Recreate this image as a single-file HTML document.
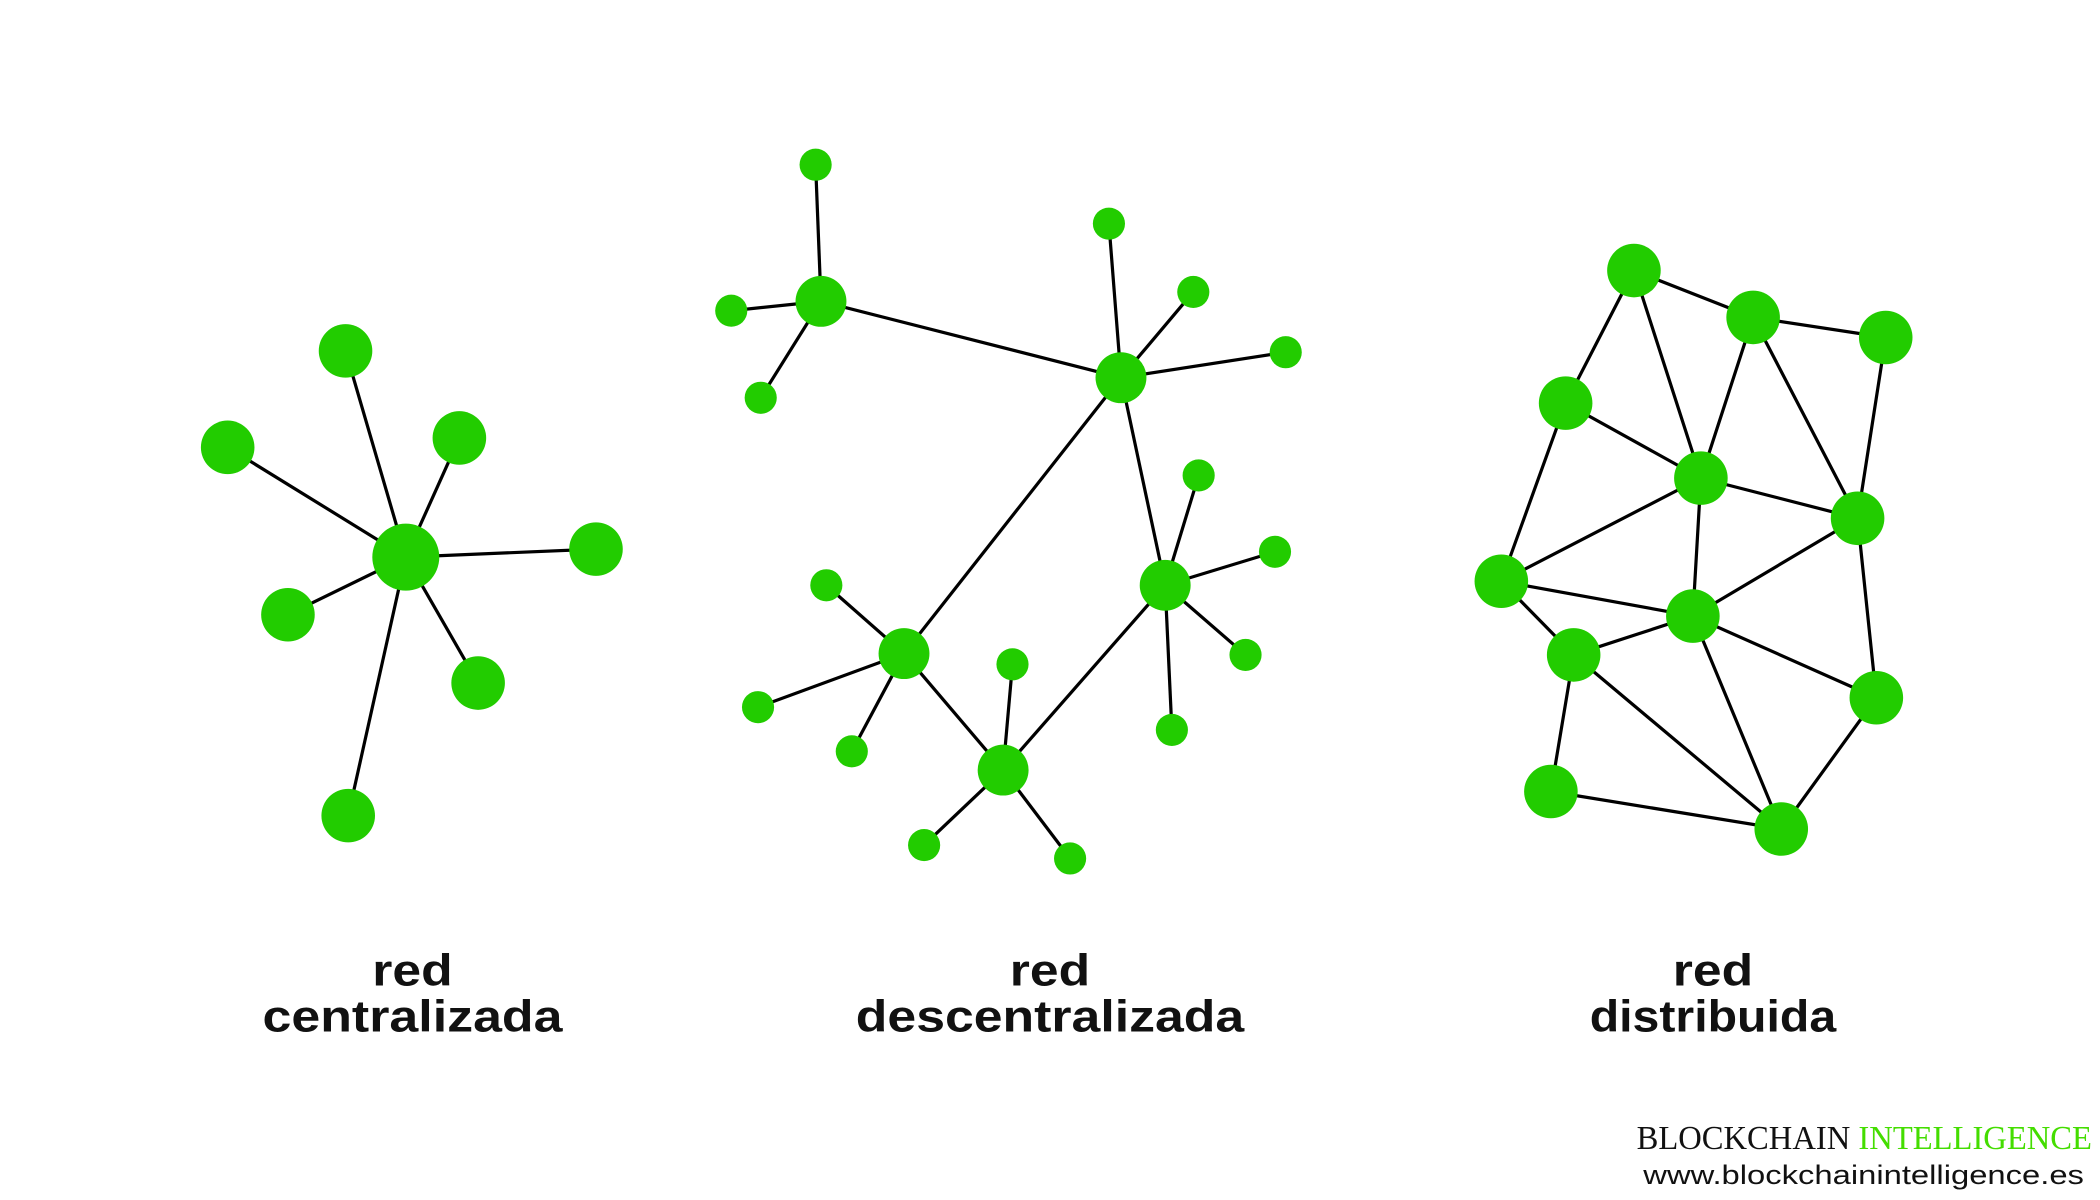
<!DOCTYPE html>
<html><head><meta charset="utf-8"><style>
html,body{margin:0;padding:0;background:#fff;width:2100px;height:1200px;overflow:hidden}
svg{display:block}
</style></head><body>
<svg width="2100" height="1200" viewBox="0 0 1568 896" preserveAspectRatio="none" xmlns="http://www.w3.org/2000/svg">
<g stroke="#000" stroke-width="2.4" fill="none">
<line x1="303" y1="416" x2="258" y2="262"/><line x1="303" y1="416" x2="170" y2="334"/>
<line x1="303" y1="416" x2="343" y2="327"/><line x1="303" y1="416" x2="445" y2="410"/>
<line x1="303" y1="416" x2="215" y2="459"/><line x1="303" y1="416" x2="357" y2="510"/>
<line x1="303" y1="416" x2="260" y2="609"/>
<line x1="613" y1="225" x2="837" y2="282"/><line x1="837" y1="282" x2="675" y2="488"/>
<line x1="837" y1="282" x2="870" y2="437"/><line x1="870" y1="437" x2="749" y2="575"/>
<line x1="675" y1="488" x2="749" y2="575"/>
<line x1="613" y1="225" x2="609" y2="123"/><line x1="613" y1="225" x2="546" y2="232"/><line x1="613" y1="225" x2="568" y2="297"/>
<line x1="837" y1="282" x2="828" y2="167"/><line x1="837" y1="282" x2="891" y2="218"/><line x1="837" y1="282" x2="960" y2="263"/>
<line x1="870" y1="437" x2="895" y2="355"/><line x1="870" y1="437" x2="952" y2="412"/><line x1="870" y1="437" x2="930" y2="489"/><line x1="870" y1="437" x2="875" y2="545"/>
<line x1="675" y1="488" x2="617" y2="437"/><line x1="675" y1="488" x2="566" y2="528"/><line x1="675" y1="488" x2="636" y2="561"/>
<line x1="749" y1="575" x2="756" y2="496"/><line x1="749" y1="575" x2="690" y2="631"/><line x1="749" y1="575" x2="799" y2="641"/>
<path d="M1220 202L1309 237M1309 237L1408 252M1220 202L1169 301M1220 202L1270 357M1309 237L1270 357M1309 237L1387 387M1408 252L1387 387M1169 301L1270 357M1169 301L1121 434M1270 357L1121 434M1270 357L1387 387M1270 357L1264 460M1387 387L1264 460M1387 387L1401 521M1121 434L1264 460M1121 434L1175 489M1175 489L1264 460M1264 460L1401 521M1264 460L1330 619M1175 489L1330 619M1175 489L1158 591M1158 591L1330 619M1401 521L1330 619"/>
</g>
<g fill="#22cc00">
<circle cx="303" cy="416" r="25"/>
<circle cx="258" cy="262" r="20"/><circle cx="170" cy="334" r="20"/><circle cx="343" cy="327" r="20"/><circle cx="445" cy="410" r="20"/><circle cx="215" cy="459" r="20"/><circle cx="357" cy="510" r="20"/><circle cx="260" cy="609" r="20"/>
<circle cx="613" cy="225" r="19"/><circle cx="837" cy="282" r="19"/><circle cx="870" cy="437" r="19"/><circle cx="675" cy="488" r="19"/><circle cx="749" cy="575" r="19"/>
<circle cx="609" cy="123" r="12"/><circle cx="546" cy="232" r="12"/><circle cx="568" cy="297" r="12"/>
<circle cx="828" cy="167" r="12"/><circle cx="891" cy="218" r="12"/><circle cx="960" cy="263" r="12"/>
<circle cx="895" cy="355" r="12"/><circle cx="952" cy="412" r="12"/><circle cx="930" cy="489" r="12"/><circle cx="875" cy="545" r="12"/>
<circle cx="617" cy="437" r="12"/><circle cx="566" cy="528" r="12"/><circle cx="636" cy="561" r="12"/>
<circle cx="756" cy="496" r="12"/><circle cx="690" cy="631" r="12"/><circle cx="799" cy="641" r="12"/>
<circle cx="1220" cy="202" r="20"/><circle cx="1309" cy="237" r="20"/><circle cx="1408" cy="252" r="20"/><circle cx="1169" cy="301" r="20"/><circle cx="1270" cy="357" r="20"/><circle cx="1387" cy="387" r="20"/><circle cx="1121" cy="434" r="20"/><circle cx="1264" cy="460" r="20"/><circle cx="1175" cy="489" r="20"/><circle cx="1401" cy="521" r="20"/><circle cx="1158" cy="591" r="20"/><circle cx="1330" cy="619" r="20"/>
</g>
<g font-family="'Liberation Sans', sans-serif" font-weight="bold" font-size="33" fill="#111" lengthAdjust="spacingAndGlyphs">
<text x="278" y="736" textLength="60" lengthAdjust="spacingAndGlyphs">red</text><text x="196" y="770" textLength="224" lengthAdjust="spacingAndGlyphs">centralizada</text>
<text x="754" y="736" textLength="60" lengthAdjust="spacingAndGlyphs">red</text><text x="639" y="770" textLength="290" lengthAdjust="spacingAndGlyphs">descentralizada</text>
<text x="1249" y="736" textLength="60" lengthAdjust="spacingAndGlyphs">red</text><text x="1187" y="770" textLength="184" lengthAdjust="spacingAndGlyphs">distribuida</text>
</g>
<text x="1222" y="858" font-family="'Liberation Serif', serif" font-size="25" textLength="340" lengthAdjust="spacingAndGlyphs"><tspan fill="#111">BLOCKCHAIN </tspan><tspan fill="#44dd00">INTELLIGENCE</tspan></text>
<text x="1227" y="884" font-family="'Liberation Sans', sans-serif" font-size="20" fill="#111" textLength="329" lengthAdjust="spacingAndGlyphs">www.blockchainintelligence.es</text>
</svg>
</body></html>
